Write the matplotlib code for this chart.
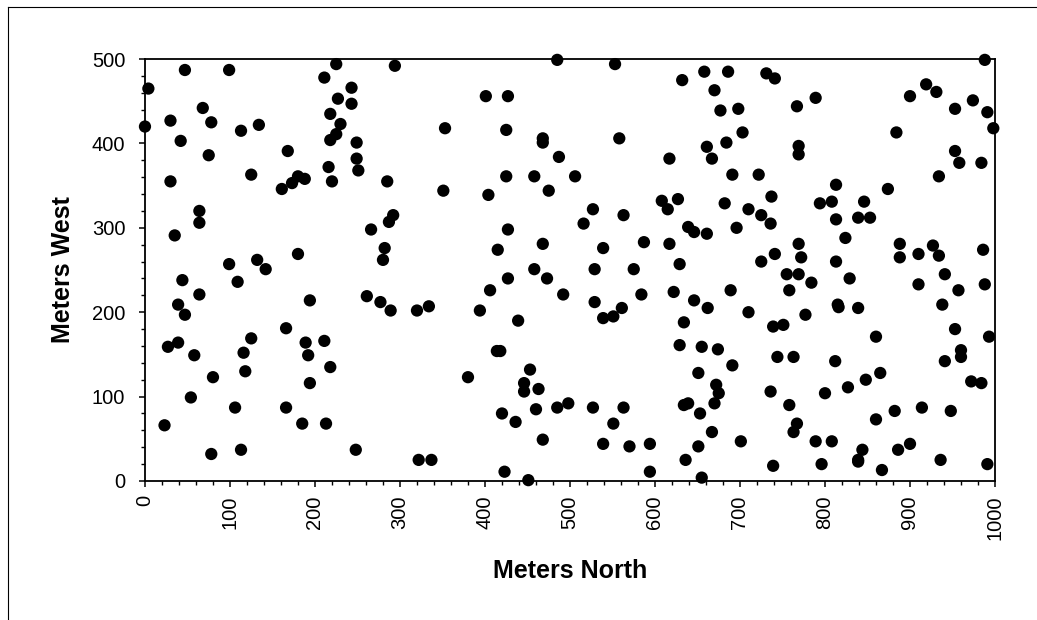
import matplotlib.pyplot as plt
from matplotlib.lines import Line2D
from matplotlib.ticker import MultipleLocator

# Sample locations (meters north, meters west)
meters_north = [
    4, 47, 99, 0, 30, 68, 78, 42, 113, 134, 75, 168, 125, 30, 161, 173, 180, 188,
    64, 64, 35, 180, 99, 132, 142, 211, 225, 243, 227, 243, 218, 230, 225, 218,
    216, 220, 44, 109, 64, 39, 47, 194, 166, 125, 189, 211, 27, 39, 58, 116, 192,
    118, 218, 80, 194, 54, 106, 166, 23, 185, 213, 78, 113,
    249, 249, 251, 285, 353, 351, 292, 287, 266, 282, 280, 294, 401, 427, 425,
    485, 468, 468, 487, 425, 458, 404, 475, 427, 468, 415, 458, 261, 277, 289,
    320, 334, 394, 406, 427, 473, 492, 439, 414, 418, 453, 380, 446, 446, 463,
    420, 436, 460, 485, 468, 248, 322, 337, 423, 451,
    553, 632, 658, 686, 731, 741, 670, 677, 698, 558, 703, 684, 661, 667, 617,
    506, 691, 722, 737, 608, 627, 615, 682, 710, 725, 736, 527, 563, 516, 639,
    646, 661, 696, 539, 587, 617, 629, 725, 741, 529, 575, 529, 561, 551, 539,
    584, 622, 646, 662, 689, 710, 634, 739, 629, 655, 674, 691, 744, 651, 672,
    675, 670, 634, 639, 653, 667, 651, 701, 736, 498, 527, 563, 551, 539, 570,
    594, 594, 636, 655, 739,
    767, 789, 769, 769, 900, 919, 931, 953, 974, 988, 991, 998, 884, 953, 958,
    984, 934, 874, 813, 794, 808, 846, 813, 839, 853, 824, 769, 772, 813, 888,
    888, 910, 927, 934, 986, 755, 769, 784, 758, 829, 815, 816, 839, 777, 751,
    860, 763, 812, 758, 767, 763, 800, 827, 848, 865, 789, 808, 796, 839, 839,
    844, 867, 860, 882, 914, 886, 900, 936, 948, 991, 910, 941, 957, 988, 938,
    953, 993, 941, 960, 960, 972, 984,
]
meters_west = [
    465, 487, 487, 420, 427, 442, 425, 403, 415, 422, 386, 391, 363, 355, 346,
    353, 361, 358, 320, 306, 291, 269, 257, 262, 251, 478, 494, 466, 453, 447,
    435, 423, 411, 404, 372, 355, 238, 236, 221, 209, 197, 214, 181, 169, 164,
    166, 159, 164, 149, 152, 149, 130, 135, 123, 116, 99, 87, 87, 66, 68, 68, 32,
    37,
    401, 382, 368, 355, 418, 344, 315, 307, 298, 276, 262, 492, 456, 456, 416,
    499, 406, 401, 384, 361, 361, 339, 344, 298, 281, 274, 251, 219, 212, 202,
    202, 207, 202, 226, 240, 240, 221, 190, 154, 154, 132, 123, 116, 106, 109,
    80, 70, 85, 87, 49, 37, 25, 25, 11, 1,
    494, 475, 485, 485, 483, 477, 463, 439, 441, 406, 413, 401, 396, 382, 382,
    361, 363, 363, 337, 332, 334, 322, 329, 322, 315, 305, 322, 315, 305, 301,
    295, 293, 300, 276, 283, 281, 257, 260, 269, 251, 251, 212, 205, 195, 193,
    221, 224, 214, 205, 226, 200, 188, 183, 161, 159, 156, 137, 147, 128, 114,
    104, 92, 90, 92, 80, 58, 41, 47, 106, 92, 87, 87, 68, 44, 41, 44, 11, 25, 4,
    18,
    444, 454, 397, 387, 456, 470, 461, 441, 451, 499, 437, 418, 413, 391, 377,
    377, 361, 346, 351, 329, 331, 331, 310, 312, 312, 288, 281, 265, 260, 281,
    265, 269, 279, 267, 274, 245, 245, 235, 226, 240, 209, 206, 205, 197, 185,
    171, 147, 142, 90, 68, 58, 104, 111, 120, 128, 47, 47, 20, 25, 23, 37, 13,
    73, 83, 87, 37, 44, 25, 83, 20, 233, 245, 226, 233, 209, 180, 171, 142, 155,
    147, 118, 116,
]

plt.rcParams["font.family"] = ["Liberation Sans", "DejaVu Sans"]

fig = plt.figure(figsize=(10.37, 6.2), dpi=100)
ax = fig.add_axes([0.1398, 0.2242, 0.8197, 0.6806])

ax.scatter(meters_north, meters_west, s=78, color="black", edgecolors="none",
           clip_on=False, zorder=3)

ax.set_xlim(0, 1000)
ax.set_ylim(0, 500)
ax.xaxis.set_major_locator(MultipleLocator(100))
ax.xaxis.set_minor_locator(MultipleLocator(20))
ax.yaxis.set_major_locator(MultipleLocator(100))
ax.yaxis.set_minor_locator(MultipleLocator(20))
ax.tick_params(which="major", direction="out", length=4.2, width=1.1,
               labelsize=14.5)
ax.tick_params(which="minor", direction="out", length=2.6, width=1.0)
ax.tick_params(axis="x", which="both", bottom=True, top=False, pad=6)
ax.tick_params(axis="y", which="both", left=True, right=False, pad=10)
plt.setp(ax.get_xticklabels(), rotation=90)

for spine in ax.spines.values():
    spine.set_linewidth(1.3)
    spine.set_color("black")

ax.set_xlabel("Meters North", fontsize=18, fontweight="bold", labelpad=14)
ax.set_ylabel("Meters West", fontsize=18, fontweight="bold", labelpad=12)

# outer chart frame (only top and left edges fall inside the picture)
fig.add_artist(Line2D([8 / 1037, 8 / 1037], [0, 1 - 7 / 620],
                      transform=fig.transFigure, color="black", lw=0.8))
fig.add_artist(Line2D([8 / 1037, 1], [1 - 7 / 620, 1 - 7 / 620],
                      transform=fig.transFigure, color="black", lw=0.8))

fig.savefig("out.png", dpi=100)
